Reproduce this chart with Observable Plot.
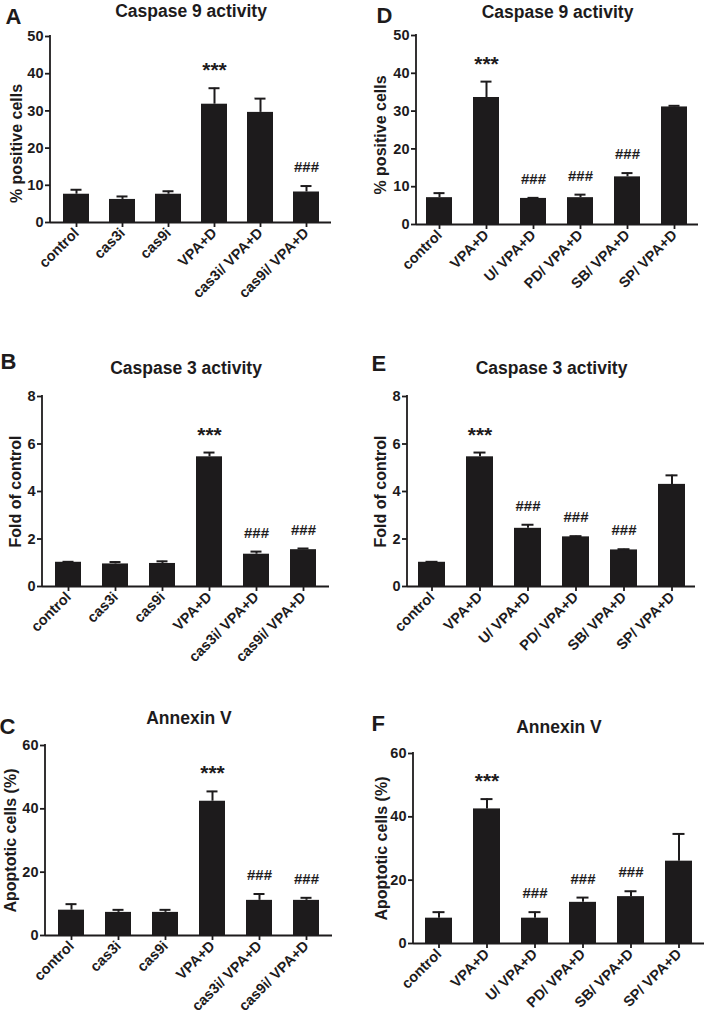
<!DOCTYPE html>
<html>
<head>
<meta charset="utf-8">
<script src="https://cdn.jsdelivr.net/npm/d3@7"></script>
<script src="https://cdn.jsdelivr.net/npm/@observablehq/plot@0.6"></script>
<style>
  html, body { margin: 0; padding: 0; background: #fff; }
  #wrap { position: relative; width: 707px; height: 1016px; overflow: hidden; }
  .panel { position: absolute; }
</style>
</head>
<body>
<div id="wrap"></div>
<script>
// ---- data ----
const groupsLeft = ["control", "cas3i", "cas9i", "VPA+D", "cas3i/ VPA+D", "cas9i/ VPA+D"];
const groupsRight = ["control", "VPA+D", "U/ VPA+D", "PD/ VPA+D", "SB/ VPA+D", "SP/ VPA+D"];

const meanA = [7.6, 6.2, 7.6, 31.8, 29.6, 8.2];
const errA  = [1.2, 0.8, 0.8, 4.3, 3.7, 1.6];
const sigA  = ["", "", "", "***", "", "###"];

const meanB = [1.02, 0.95, 0.97, 5.46, 1.36, 1.55];
const errB  = [0.02, 0.08, 0.09, 0.18, 0.11, 0.05];
const sigB  = ["", "", "", "***", "###", "###"];

const meanC = [8.0, 7.3, 7.3, 42.4, 11.1, 11.1];
const errC  = [1.9, 0.8, 0.8, 3.1, 2.0, 0.8];
const sigC  = ["", "", "", "***", "###", "###"];

const meanD = [7.1, 33.6, 6.9, 7.1, 12.6, 31.1];
const errD  = [1.2, 4.2, 0.15, 0.8, 1.0, 0.3];
const sigD  = ["", "***", "###", "###", "###", ""];

const meanE = [1.02, 5.46, 2.45, 2.09, 1.54, 4.3];
const errE  = [0.02, 0.18, 0.15, 0.03, 0.03, 0.38];
const sigE  = ["", "***", "###", "###", "###", ""];

const meanF = [8.0, 42.5, 8.0, 13.0, 14.8, 26.0];
const errF  = [1.9, 3.1, 1.9, 1.5, 1.7, 8.6];
const sigF  = ["", "***", "###", "###", "###", ""];

const ticks50 = [0, 10, 20, 30, 40, 50];
const ticks8 = [0, 2, 4, 6, 8];
const ticks60 = [0, 20, 40, 60];

const titleC9 = "Caspase 9 activity";
const titleC3 = "Caspase 3 activity";
const titleAn = "Annexin V";
const labelPos = "% positive cells";
const labelFold = "Fold of control";
const labelApo = "Apoptotic cells (%)";

// ---- layout ----
const panels = [
  {letter: "A", groups: groupsLeft, mean: meanA, err: errA, sig: sigA, ticks: ticks50, title: titleC9, ylabel: labelPos,
   left: 0, top: 0, W: 354, H: 330, ml: 50, mr: 23, mt: 36, mb: 108, tdy: -20, ldx: -45, ldy: -13, ydx: -34, ydy: 14},
  {letter: "D", groups: groupsRight, mean: meanD, err: errD, sig: sigD, ticks: ticks50, title: titleC9, ylabel: labelPos,
   left: 354, top: 0, W: 353, H: 330, ml: 62, mr: 9, mt: 35, mb: 106, tdy: -18, ldx: -40, ldy: -13, ydx: -36, ydy: 5},
  {letter: "B", groups: groupsLeft, mean: meanB, err: errB, sig: sigB, ticks: ticks8, title: titleC3, ylabel: labelFold,
   left: 0, top: 340, W: 354, H: 350, ml: 42, mr: 25, mt: 56, mb: 104, tdy: -23, ldx: -42, ldy: -28, ydx: -27, ydy: 0},
  {letter: "E", groups: groupsRight, mean: meanE, err: errE, sig: sigE, ticks: ticks8, title: titleC3, ylabel: labelFold,
   left: 354, top: 340, W: 353, H: 350, ml: 53, mr: 12, mt: 56, mb: 104, tdy: -23, ldx: -36, ldy: -26, ydx: -26.5, ydy: 0},
  {letter: "C", groups: groupsLeft, mean: meanC, err: errC, sig: sigC, ticks: ticks60, title: titleAn, ylabel: labelApo,
   left: 0, top: 690, W: 354, H: 326, ml: 45, mr: 22, mt: 55, mb: 81, tdy: -22, ldx: -46, ldy: -12, ydx: -34.5, ydy: 0},
  {letter: "F", groups: groupsRight, mean: meanF, err: errF, sig: sigF, ticks: ticks60, title: titleAn, ylabel: labelApo,
   left: 354, top: 690, W: 353, H: 326, ml: 59, mr: 3, mt: 63, mb: 73, tdy: -21, ldx: -42, ldy: -23, ydx: -31.5, ydy: 0}
];

const INK = "#1d1b1c";
const FONT = "'Liberation Sans', Arial, Helvetica, sans-serif";
const TICKFONT = 14.5;
const wrap = document.getElementById("wrap");

function yAxisLine(index, scales, values, dims) {
  const l = document.createElementNS("http://www.w3.org/2000/svg", "line");
  const x = dims.marginLeft;
  l.setAttribute("x1", x); l.setAttribute("x2", x);
  l.setAttribute("y1", dims.marginTop - 0.9);
  l.setAttribute("y2", dims.height - dims.marginBottom + 0.9);
  l.setAttribute("stroke", INK);
  l.setAttribute("stroke-width", 1.8);
  return l;
}

for (const p of panels) {
  const rows = p.groups.map((g, i) => ({g, mean: p.mean[i], top: p.mean[i] + p.err[i], sig: p.sig[i]}));
  const ymax = p.ticks[p.ticks.length - 1];
  const chart = Plot.plot({
    width: p.W, height: p.H,
    marginLeft: p.ml, marginRight: p.mr, marginTop: p.mt, marginBottom: p.mb,
    style: {fontFamily: FONT, fontSize: TICKFONT + "px", fontWeight: "bold", color: INK, background: "white", overflow: "visible"},
    x: {domain: p.groups, paddingInner: 0.44, paddingOuter: 0.22, label: null},
    y: {domain: [0, ymax], label: null},
    marks: [
      Plot.barY(rows, {x: "g", y: "mean", fill: INK}),
      Plot.ruleX(rows, {x: "g", y1: "mean", y2: "top", stroke: INK, strokeWidth: 2}),
      Plot.tickY(rows, {x: "g", y: "top", stroke: INK, strokeWidth: 2, insetLeft: 7.5, insetRight: 7.5}),
      Plot.text(rows.filter(d => d.sig === "***"), {x: "g", y: "top", text: "sig", dy: -11, lineAnchor: "bottom", fontSize: 21, fontWeight: "bold", fill: INK}),
      Plot.text(rows.filter(d => d.sig === "###"), {x: "g", y: "top", text: "sig", dy: -14, lineAnchor: "bottom", fontSize: 15, fontWeight: "bold", fill: INK}),
      Plot.ruleY([0], {stroke: INK, strokeWidth: 1.8}),
      yAxisLine,
      Plot.axisY({ticks: p.ticks, tickSize: 5, tickPadding: 2, tickFormat: d3.format("d"), fontSize: TICKFONT, fontWeight: "bold", stroke: INK, strokeWidth: 1.8, fill: INK, label: null}),
      Plot.axisX({tickRotate: -45, tickSize: 5, tickPadding: 3, fontSize: TICKFONT, fontWeight: "bold", stroke: INK, strokeWidth: 1.8, fill: INK, label: null}),
      Plot.text([p.title], {text: d => d, frameAnchor: "top", dy: p.tdy, lineAnchor: "bottom", fontSize: 17.5, fontWeight: "bold", fill: INK}),
      Plot.text([p.letter], {text: d => d, frameAnchor: "top-left", textAnchor: "start", dx: p.ldx, dy: p.ldy, lineAnchor: "bottom", fontSize: 22, fontWeight: "bold", fill: INK}),
      Plot.text([p.ylabel], {text: d => d, frameAnchor: "left", rotate: -90, dx: p.ydx, dy: p.ydy, textAnchor: "middle", lineAnchor: "middle", fontSize: 16, fontWeight: "bold", fill: INK})
    ]
  });
  const div = document.createElement("div");
  div.className = "panel";
  div.style.left = p.left + "px";
  div.style.top = p.top + "px";
  div.style.width = p.W + "px";
  div.style.height = p.H + "px";
  div.appendChild(chart);
  wrap.appendChild(div);
}
</script>
</body>
</html>
